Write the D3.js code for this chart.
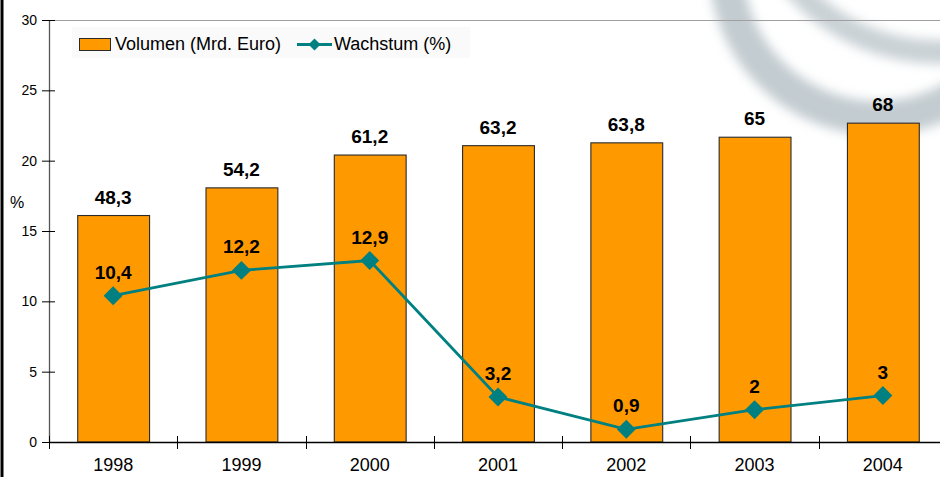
<!DOCTYPE html>
<html><head><meta charset="utf-8">
<script src="https://cdn.jsdelivr.net/npm/d3@7"></script>
<style>
html,body{margin:0;padding:0;background:#fff;}
svg{display:block;font-family:"Liberation Sans",Arial,Helvetica,sans-serif;}
</style></head>
<body>
<svg id="chart" width="940" height="477"></svg>
<script>
const years = ["1998","1999","2000","2001","2002","2003","2004"];
const volume = [48.3, 54.2, 61.2, 63.2, 63.8, 65, 68];
const volumeLabels = ["48,3","54,2","61,2","63,2","63,8","65","68"];
const growth = [10.4, 12.2, 12.9, 3.2, 0.9, 2.3, 3.3];
const growthLabels = ["10,4","12,2","12,9","3,2","0,9","2","3"];
const yTicks = [0, 5, 10, 15, 20, 25, 30];
const seriesNames = ["Volumen (Mrd. Euro)", "Wachstum (%)"];

(function(){
const svg = d3.select("#chart");
const pLeft = 49, pRight = 947, pTop = 20, pBottom = 442;

const x = d3.scaleBand().domain(years).range([pLeft, pRight]).paddingInner(0.44).paddingOuter(0.22);
const y = d3.scaleLinear().domain([0, 30]).range([pBottom, pTop]);
const y2 = d3.scaleLinear().domain([0, 90]).range([pBottom, pTop]);

// watermark (background logo arcs)
const defs = svg.append("defs");
defs.append("filter").attr("id","blur").attr("x","-30%").attr("y","-30%").attr("width","160%").attr("height","160%")
  .append("feGaussianBlur").attr("stdDeviation", 5.5);
const wm = svg.append("g").attr("filter","url(#blur)");
wm.append("circle").attr("cx",878).attr("cy",-34).attr("r",152)
  .attr("fill","none").attr("stroke","#c3ccd0").attr("stroke-width",34);
wm.append("circle").attr("cx",938).attr("cy",-138).attr("r",190)
  .attr("fill","none").attr("stroke","#cad2d6").attr("stroke-width",24);

// left border
svg.append("rect").attr("x",0.5).attr("y",0).attr("width",3).attr("height",477).attr("fill","#000");

// top gridline
svg.append("line").attr("x1",pLeft).attr("x2",940).attr("y1",y(30)+0.5).attr("y2",y(30)+0.5)
  .attr("stroke","#a0a0a0").attr("stroke-width",1.2);

// bars
svg.append("g").selectAll("rect").data(years).join("rect")
  .attr("x", d => x(d)+0.5)
  .attr("y", (d,i) => y2(volume[i]))
  .attr("width", x.bandwidth())
  .attr("height", (d,i) => pBottom - y2(volume[i]))
  .attr("fill","#FF9900").attr("stroke","#2a2a2a").attr("stroke-width",1.1);

// y axis
const yAxis = svg.append("g").attr("transform",`translate(${pLeft},0)`)
  .call(d3.axisLeft(y).tickValues(yTicks).tickSize(7).tickPadding(5).tickFormat(d3.format("d")));
yAxis.select(".domain").attr("stroke","#555").attr("stroke-width",1.3).attr("d",`M0.5,${pTop}V${pBottom}`);
yAxis.selectAll(".tick line").attr("x1",6).attr("x2",-7).attr("stroke","#000");
yAxis.selectAll(".tick text").attr("font-size",14).attr("fill","#000")
  .attr("font-family","Liberation Sans,Arial,sans-serif").attr("x",-12);

// x axis
const xAxis = svg.append("g").attr("transform",`translate(0,${pBottom})`)
  .call(d3.axisBottom(x).tickSize(0).tickPadding(16));
xAxis.select(".domain").attr("stroke","#000").attr("stroke-width",1.3).attr("d",`M${pLeft},0.5H940`);
xAxis.selectAll(".tick text").attr("font-size",18).attr("fill","#000")
  .attr("font-family","Liberation Sans,Arial,sans-serif");
const bounds = years.map(d => x(d) + x.bandwidth()/2 - x.step()/2).concat([x(years[6]) + x.bandwidth()/2 + x.step()/2]);
svg.append("g").selectAll("line").data(bounds).join("line")
  .attr("x1", d => Math.round(d)+0.5).attr("x2", d => Math.round(d)+0.5)
  .attr("y1", pBottom-6).attr("y2", pBottom+7).attr("stroke","#000").attr("stroke-width",1);

// % label
svg.append("text").attr("x",10).attr("y",208).attr("font-size",16).text("%");

// line
const cx = d => x(d) + x.bandwidth()/2;
const line = d3.line().x((d,i) => cx(years[i])).y(d => y(d));
svg.append("path").datum(growth).attr("d", line).attr("fill","none")
  .attr("stroke","#008080").attr("stroke-width",2.8);
const diamond = d3.symbol().type(d3.symbolSquare).size(180);
svg.append("g").selectAll("path").data(growth).join("path")
  .attr("d", diamond)
  .attr("transform", (d,i) => `translate(${cx(years[i])},${y(d)}) rotate(45)`)
  .attr("fill","#008080");

// labels
svg.append("g").selectAll("text").data(volumeLabels).join("text")
  .attr("x",(d,i) => cx(years[i])).attr("y",(d,i) => y2(volume[i]) - 12)
  .attr("text-anchor","middle").attr("font-size",19).attr("font-weight","bold").text(d => d);
svg.append("g").selectAll("text").data(growthLabels).join("text")
  .attr("x",(d,i) => cx(years[i])).attr("y",(d,i) => y(growth[i]) - 17)
  .attr("text-anchor","middle").attr("font-size",19).attr("font-weight","bold").text(d => d);

// legend
const lg = svg.append("g");
lg.append("rect").attr("x",72).attr("y",27).attr("width",398).attr("height",31).attr("fill","#fafafa");
lg.append("rect").attr("x",79.5).attr("y",38.5).attr("width",31).attr("height",12)
  .attr("fill","#FF9900").attr("stroke","#2a2a2a").attr("stroke-width",1);
lg.append("text").attr("x",115).attr("y",50).attr("font-size",18).text(seriesNames[0]);
lg.append("line").attr("x1",297).attr("x2",332).attr("y1",44.5).attr("y2",44.5)
  .attr("stroke","#008080").attr("stroke-width",3);
lg.append("path").attr("d", d3.symbol().type(d3.symbolSquare).size(72)())
  .attr("transform","translate(314.5,44.5) rotate(45)").attr("fill","#008080");
lg.append("text").attr("x",334).attr("y",50).attr("font-size",18).text(seriesNames[1]);
})();
</script>
</body></html>
